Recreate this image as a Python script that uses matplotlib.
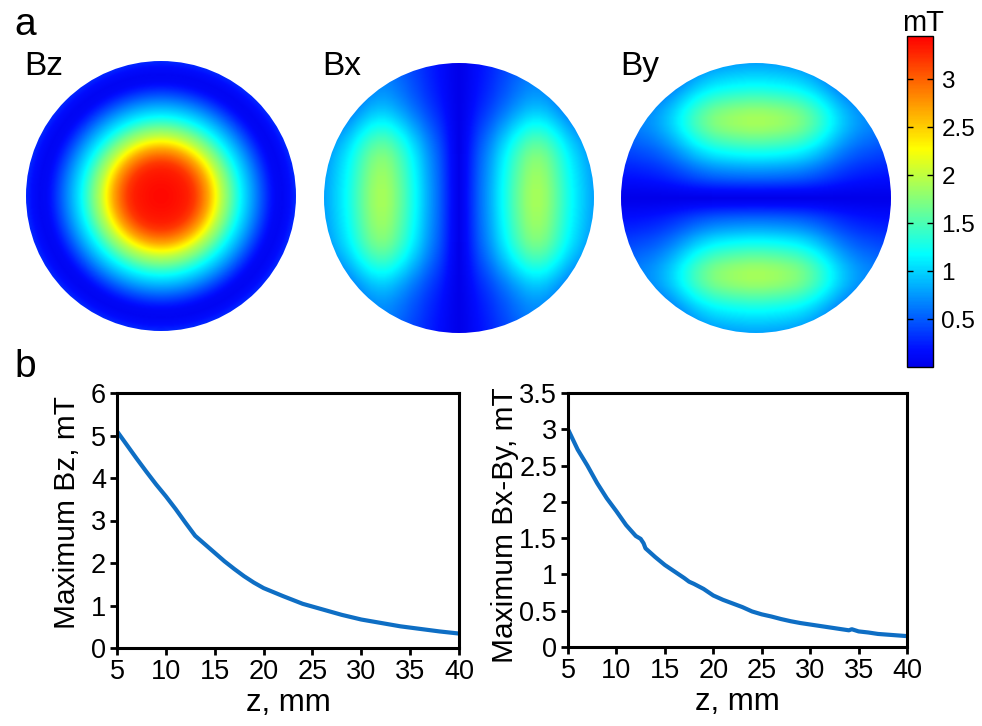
import numpy as np
import matplotlib
matplotlib.use("Agg")
import matplotlib.pyplot as plt
from matplotlib.colors import LinearSegmentedColormap, Normalize
from matplotlib.patches import Circle

plt.rcParams["font.family"] = ["Liberation Sans", "DejaVu Sans"]

# radial samples (normalised radius) for the field maps
RADIUS = [0.0, 0.05, 0.1, 0.15, 0.2, 0.25, 0.3, 0.35, 0.4, 0.45, 0.5,
          0.55, 0.6, 0.65, 0.7, 0.75, 0.8, 0.85, 0.9, 0.95, 1.0]
# Bz versus radius, mT
BZ_PROFILE = [3.40, 3.40, 3.38, 3.35, 3.30, 3.18, 2.95, 2.68, 2.32, 1.97, 1.70,
              1.40, 1.12, 0.90, 0.68, 0.46, 0.26, 0.11, 0.08, 0.15, 0.28]
# in-plane component along its own axis, mT
PLANAR_PROFILE = [0.0, 0.15, 0.35, 0.55, 0.72, 0.90, 1.10, 1.28, 1.48, 1.65, 1.80,
                  1.88, 1.88, 1.80, 1.65, 1.48, 1.30, 1.15, 1.02, 0.90, 0.80]
# relative drop across the other axis
PLANAR_FALLOFF = [1.0, 1.0, 0.99, 0.98, 0.965, 0.945, 0.92, 0.88, 0.83, 0.77, 0.70,
                  0.63, 0.56, 0.50, 0.45, 0.41, 0.38, 0.36, 0.34, 0.33, 0.32]

# peak field versus distance
BZ_Z = [5, 6, 7, 8, 9, 10, 11, 12, 13, 14, 15, 16, 17, 18, 19, 20,
        22, 24, 26, 28, 30, 32, 34, 36, 38, 40]
BZ_MAX = [5.10, 4.78, 4.46, 4.15, 3.85, 3.57, 3.27, 2.95, 2.64, 2.44, 2.24, 2.04,
          1.86, 1.69, 1.54, 1.41, 1.22, 1.04, 0.91, 0.78, 0.67, 0.59, 0.51,
          0.45, 0.39, 0.34]
BXY_Z = [5, 6, 7, 8, 9, 10, 11, 12, 12.5, 12.8, 13, 14, 15, 16, 17, 17.5, 18,
         19, 20, 21, 22, 23, 24, 25, 26, 27, 28, 29, 30, 31, 32, 33, 34, 34.3,
         35, 36, 37, 38, 39, 40]
BXY_MAX = [3.00, 2.72, 2.50, 2.26, 2.05, 1.87, 1.68, 1.53, 1.49, 1.43, 1.36,
           1.24, 1.13, 1.04, 0.95, 0.90, 0.87, 0.80, 0.71, 0.65, 0.60, 0.55,
           0.49, 0.45, 0.42, 0.385, 0.355, 0.33, 0.31, 0.29, 0.27, 0.25, 0.23,
           0.245, 0.215, 0.20, 0.18, 0.17, 0.16, 0.15]

cmap = LinearSegmentedColormap.from_list(
    "bluered",
    [(0.0, (0.0, 0.0, 0.92)), (0.05, (0.0, 0.05, 1.0)), (0.34, (0.0, 1.0, 1.0)),
     (0.5, (0.5, 1.0, 0.5)), (0.66, (1.0, 1.0, 0.0)), (1.0, (1.0, 0.0, 0.0))])
norm = Normalize(vmin=0.0, vmax=3.45)

W, H = 982, 726
fig = plt.figure(figsize=(W / 100, H / 100), dpi=100)

g = np.linspace(-1, 1, 401)
X, Y = np.meshgrid(g, g)
R = np.hypot(X, Y)

bz = np.interp(R, RADIUS, BZ_PROFILE)
bx = np.interp(np.abs(X), RADIUS, PLANAR_PROFILE) * np.interp(np.abs(Y), RADIUS, PLANAR_FALLOFF)
by = np.interp(np.abs(Y), RADIUS, PLANAR_PROFILE) * np.interp(np.abs(X), RADIUS, PLANAR_FALLOFF)

disks = [(bz, 161, 196, "Bz", 24), (bx, 459, 198, "Bx", 322), (by, 756, 198, "By", 620)]
for field, cx, cy, name, tx in disks:
    rad = 135
    ax = fig.add_axes([(cx - rad) / W, 1 - (cy + rad) / H, 2 * rad / W, 2 * rad / H])
    im = ax.imshow(field, extent=(-1, 1, -1, 1), origin="lower", cmap=cmap,
                   norm=norm, interpolation="bilinear")
    im.set_clip_path(Circle((0, 0), 1.0, transform=ax.transData))
    ax.set_xlim(-1, 1)
    ax.set_ylim(-1, 1)
    ax.axis("off")
    fig.text(tx / W, 1 - 75 / H, name, fontsize=24, va="baseline", ha="left")

# colour bar
cax = fig.add_axes([907 / W, 1 - 367 / H, 26 / W, 331 / H])
cb = fig.colorbar(plt.cm.ScalarMappable(norm=norm, cmap=cmap), cax=cax)
cb.set_ticks([0.5, 1, 1.5, 2, 2.5, 3])
cb.set_ticklabels(["0.5", "1", "1.5", "2", "2.5", "3"])
cb.outline.set_linewidth(1.0)
cax.tick_params(direction="in", left=True, right=True, length=4, width=1,
                labelsize=17.5, pad=6)
fig.text(923 / W, 1 - 31 / H, "mT", fontsize=21, ha="center", va="baseline")

fig.text(14 / W, 1 - 35 / H, "a", fontsize=28, va="baseline")
fig.text(14 / W, 1 - 377 / H, "b", fontsize=28, va="baseline")

line_color = "#0e6ec4"


def style(ax):
    for s in ax.spines.values():
        s.set_linewidth(2.2)
    ax.tick_params(direction="out", length=5, width=2, labelsize=19.5, pad=3)
    ax.set_xlim(5, 40)
    ax.set_xticks(range(5, 41, 5))
    ax.set_xlabel("z, mm", fontsize=22.5, labelpad=2)


ax1 = fig.add_axes([117 / W, 1 - 648 / H, 342 / W, 255 / H])
ax1.plot(BZ_Z, BZ_MAX, color=line_color, lw=3)
style(ax1)
ax1.set_ylim(0, 6)
ax1.set_yticks(range(0, 7))
ax1.set_ylabel("Maximum Bz, mT", fontsize=21.5)
ax1.yaxis.set_label_coords(-0.105, 0.53)

ax2 = fig.add_axes([568 / W, 1 - 647 / H, 339 / W, 254 / H])
ax2.plot(BXY_Z, BXY_MAX, color=line_color, lw=3)
style(ax2)
ax2.set_ylim(0, 3.5)
ax2.set_yticks([0, 0.5, 1, 1.5, 2, 2.5, 3, 3.5])
ax2.set_yticklabels(["0", "0.5", "1", "1.5", "2", "2.5", "3", "3.5"])
ax2.set_ylabel("Maximum Bx-By, mT", fontsize=21.5)
ax2.yaxis.set_label_coords(-0.144, 0.48)

fig.savefig("out.png", dpi=100)
